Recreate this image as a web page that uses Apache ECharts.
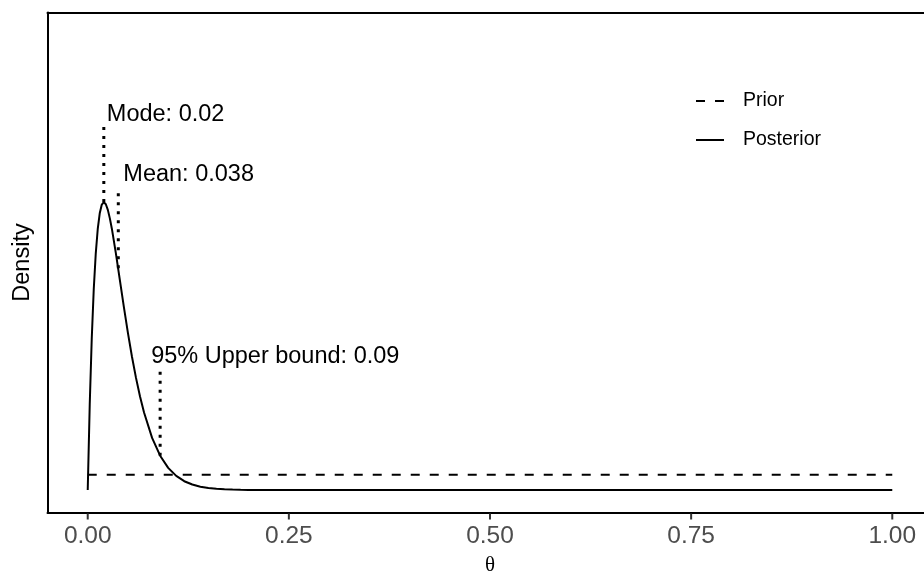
<!DOCTYPE html>
<html>
<head>
<meta charset="utf-8">
<script src="https://cdn.jsdelivr.net/npm/echarts@6/dist/echarts.min.js"></script>
<style>
  html, body { margin: 0; padding: 0; background: #fff; }
  #chart { width: 924px; height: 572px; }
</style>
</head>
<body>
<div id="chart"></div>
<script>
// Posterior density of theta, sampled along the theta axis
const thetaGrid = [
  0, 0.0025, 0.005, 0.0075, 0.01, 0.0125, 0.015, 0.0175, 0.02, 0.0225,
  0.025, 0.0275, 0.03, 0.035, 0.04, 0.045, 0.05, 0.055, 0.06, 0.065,
  0.07, 0.08, 0.09, 0.10, 0.11, 0.12, 0.13, 0.14, 0.15, 0.16,
  0.17, 0.18, 0.19, 0.20, 0.22, 0.25, 0.30, 0.40, 0.50, 0.60,
  0.70, 0.80, 0.90, 1.00
];
const posteriorDensity = [
  0, 5.64, 9.97, 13.23, 15.58, 17.21, 18.24, 18.79, 18.95, 18.81,
  18.44, 17.88, 17.20, 15.57, 13.80, 12.02, 10.33, 8.77, 7.38, 6.15,
  5.10, 3.43, 2.26, 1.46, 0.93, 0.58, 0.36, 0.22, 0.13, 0.08,
  0.047, 0.028, 0.016, 0.009, 0.003, 0.0005, 0, 0, 0, 0,
  0, 0, 0, 0
];

// Flat prior
const priorTheta = [0, 1];
const priorDensity = [1, 1];

// Posterior summaries: value, curve height at the value, top of the marker
const summaryNames = ['Mode', 'Mean', '95% Upper bound'];
const summaryValues = [0.02, 0.038, 0.09];
const summaryValueText = ['0.02', '0.038', '0.09'];
const summaryLow = [18.95, 14.6, 2.26];
const summaryHigh = [24.0, 19.6, 8.0];

// x-axis ticks
const xTicks = [0, 0.25, 0.5, 0.75, 1];

const FONT = 'Liberation Sans, Arial, Helvetica, sans-serif';
const Y_MIN = -1.48;
const Y_MAX = 31.43;

const chart = echarts.init(document.getElementById('chart'), null, { renderer: 'canvas' });

const posteriorData = thetaGrid.map((t, i) => [t, posteriorDensity[i]]);
const priorData = priorTheta.map((t, i) => [t, priorDensity[i]]);

// Vertical dotted markers, one series each
const markerSeries = summaryValues.map((v, i) => ({
  name: summaryNames[i] + ' marker',
  type: 'line',
  data: [[v, summaryLow[i]], [v, summaryHigh[i]]],
  symbol: 'none',
  silent: true,
  lineStyle: { color: '#000', width: 3, type: [3, 6], cap: 'butt' },
  z: 3
}));

// Label offsets (pixels) from the top of each marker
const labelOffsets = [[3, -11], [5, -18], [-9, -12]];

const labelSeries = {
  name: 'labels',
  type: 'scatter',
  symbol: 'circle',
  symbolSize: 0,
  silent: true,
  itemStyle: { color: '#000', opacity: 1 },
  data: summaryValues.map((v, i) => ({
    value: [v, summaryHigh[i]],
    label: {
      show: true,
      formatter: summaryNames[i] + ': ' + summaryValueText[i],
      position: 'right',
      distance: 0,
      align: 'left',
      verticalAlign: 'middle',
      offset: labelOffsets[i],
      color: '#000000',
      opacity: 1,
      fontFamily: FONT,
      fontSize: 23.5
    }
  })),
  z: 4
};

// Outward tick marks under the theta axis, placed through the axis scale
const tickSeries = {
  name: 'ticks',
  type: 'custom',
  silent: true,
  clip: false,
  data: xTicks.map(t => [t, Y_MIN]),
  renderItem: (params, api) => {
    const p = api.coord([api.value(0), api.value(1)]);
    return {
      type: 'line',
      shape: { x1: p[0], y1: p[1] + 1, x2: p[0], y2: p[1] + 7 },
      style: { stroke: '#333', lineWidth: 2 }
    };
  },
  z: 5
};

const axisLineStyle = { color: '#000', width: 2 };

const option = {
  animation: false,
  backgroundColor: '#fff',
  grid: {
    left: 47.5,
    right: -8.5,
    top: 12.5,
    bottom: 59.5,
    outerBoundsMode: 'none',
    containLabel: false,
    show: false
  },
  legend: {
    data: ['Prior', 'Posterior'],
    orient: 'vertical',
    left: 690,
    top: 86,
    itemWidth: 28,
    itemHeight: 20,
    itemGap: 19,
    itemStyle: { opacity: 0 },
    textStyle: {
      color: '#000',
      fontFamily: FONT,
      fontSize: 19.5,
      padding: [0, 0, 0, 14]
    }
  },
  xAxis: [
    {
      type: 'value',
      position: 'bottom',
      min: -0.05,
      max: 1.05,
      name: 'θ',
      nameLocation: 'middle',
      nameGap: 42,
      nameTextStyle: { color: '#000', fontFamily: 'Liberation Serif, DejaVu Serif, serif', fontSize: 21 },
      axisLine: { show: true, onZero: false, lineStyle: axisLineStyle },
      splitLine: { show: false },
      axisTick: { show: false },
      axisLabel: {
        show: true,
        customValues: xTicks,
        formatter: v => v.toFixed(2),
        color: '#4d4d4d',
        fontFamily: FONT,
        fontSize: 24.5,
        margin: 11
      }
    },
    {
      // plain rule along the top of the panel
      type: 'value',
      position: 'top',
      min: -0.05,
      max: 1.05,
      axisLine: { show: true, onZero: false, lineStyle: axisLineStyle },
      axisTick: { show: false },
      axisLabel: { show: false },
      splitLine: { show: false }
    }
  ],
  yAxis: {
    type: 'value',
    min: Y_MIN,
    max: Y_MAX,
    name: 'Density',
    nameLocation: 'middle',
    nameGap: 13,
    nameRotate: 90,
    nameTextStyle: { color: '#000', fontFamily: FONT, fontSize: 23.5 },
    axisLine: { show: true, onZero: false, lineStyle: axisLineStyle },
    axisTick: { show: false },
    axisLabel: { show: false },
    splitLine: { show: false }
  },
  series: [
    {
      name: 'Prior',
      type: 'line',
      data: priorData,
      symbol: 'none',
      lineStyle: { color: '#000', width: 2, type: [9, 10] },
      itemStyle: { color: '#000' },
      z: 2
    },
    {
      name: 'Posterior',
      type: 'line',
      data: posteriorData,
      symbol: 'none',
      lineStyle: { color: '#000', width: 2, type: 'solid' },
      itemStyle: { color: '#000' },
      z: 2
    },
    ...markerSeries,
    labelSeries,
    tickSeries
  ]
};

chart.setOption(option);
</script>
</body>
</html>
